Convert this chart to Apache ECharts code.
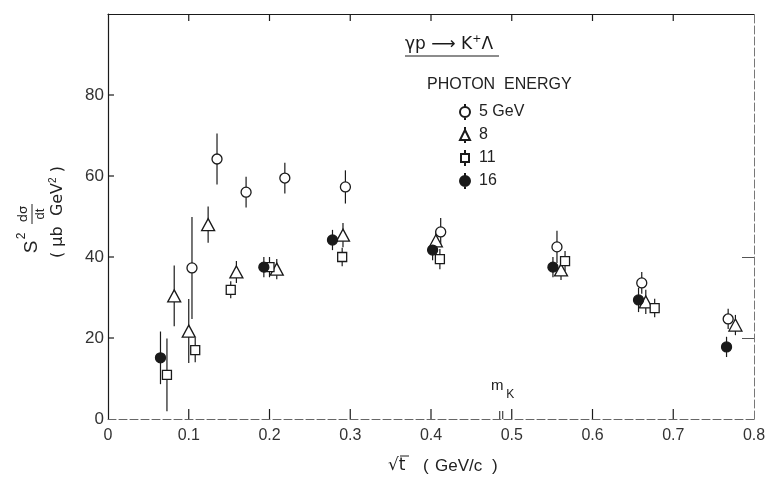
<!DOCTYPE html>
<html><head><meta charset="utf-8">
<script src="https://cdn.jsdelivr.net/npm/echarts@6/dist/echarts.min.js"></script>
<style>html,body{margin:0;padding:0;background:#fff}#c{width:776px;height:488px}</style>
</head><body><div id="c"></div>
<script>
// ---- data ----
const seriesNames = ['5 GeV', '8', '11', '16'];
const xTicks = [0, 0.1, 0.2, 0.3, 0.4, 0.5, 0.6, 0.7, 0.8];
const yTicks = [0, 20, 40, 60, 80];

const x5  = [0.104, 0.135, 0.171, 0.219, 0.294, 0.412, 0.556, 0.661, 0.768];
const y5  = [37.3, 64.2, 56.0, 59.5, 57.3, 46.2, 42.5, 33.6, 24.7];
const e5  = [12.6, 6.3, 3.8, 3.8, 4.1, 3.4, 4.0, 2.7, 2.5];

const x8  = [0.082, 0.100, 0.124, 0.159, 0.209, 0.291, 0.406, 0.561, 0.666, 0.777];
const y8  = [30.4, 21.7, 48.0, 36.3, 37.0, 45.4, 44.0, 36.8, 28.9, 23.2];
const e8  = [7.5, 7.9, 4.5, 2.7, 2.5, 3.0, 2.5, 2.5, 3.0, 2.5];

const x11 = [0.073, 0.108, 0.152, 0.200, 0.290, 0.411, 0.566, 0.677];
const y11 = [10.9, 17.0, 31.9, 37.5, 40.0, 39.5, 39.0, 27.4];
const e11 = [9.0, 3.0, 2.1, 2.5, 2.3, 2.5, 2.5, 2.3];

const x16 = [0.065, 0.193, 0.278, 0.402, 0.551, 0.657, 0.766];
const y16 = [15.1, 37.5, 44.2, 41.7, 37.5, 29.4, 17.8];
const e16 = [6.5, 2.5, 2.5, 2.5, 2.5, 3.0, 2.5];

const MK_POS = 0.487; // m_K marker on the sqrt(t) axis

// ---- chart ----
const FONT = 'Liberation Sans';
const INK = '#1a1a1a';
const X_MAX = 0.8, Y_MAX = 100;
const sets = [
  {name: seriesNames[0], x: x5,  y: y5,  e: e5,  symbol: 'circle',   size: 10, fill: '#fff',
   icon: 'path://M5,0L5,3M5,13L5,16M5,3A5,5,0,1,1,5,13A5,5,0,1,1,5,3Z'},
  {name: seriesNames[1], x: x8,  y: y8,  e: e8,  symbol: 'triangle', size: [13, 12], fill: '#fff',
   icon: 'path://M5,0L5,3M5,13L5,16M5,3L10,13L0,13Z'},
  {name: seriesNames[2], x: x11, y: y11, e: e11, symbol: 'rect',     size: [9, 9], fill: '#fff',
   icon: 'path://M5,0L5,4M5,12L5,16M1,4L9,4L9,12L1,12ZM0,8L0,8M10,8L10,8'},
  {name: seriesNames[3], x: x16, y: y16, e: e16, symbol: 'circle',   size: 10, fill: INK,
   icon: 'path://M5,0L5,3M5,13L5,16M5,3A5,5,0,1,1,5,13A5,5,0,1,1,5,3Z'}
];

function errItem(params, api) {
  const p1 = api.coord([api.value(0), api.value(1)]);
  const p2 = api.coord([api.value(0), api.value(2)]);
  return {type: 'line', shape: {x1: p1[0], y1: p1[1], x2: p2[0], y2: p2[1]},
          style: {stroke: INK, lineWidth: 1.2}};
}

const series = [];
sets.forEach(s => {
  series.push({
    name: s.name + ' err', type: 'custom', renderItem: errItem, z: 2,
    encode: {x: 0, y: [1, 2]},
    data: s.x.map((xv, i) => [xv, s.y[i] - s.e[i], s.y[i] + s.e[i]]),
    silent: true
  });
});
sets.forEach(s => {
  series.push({
    name: s.name, type: 'scatter', z: 3, symbol: s.symbol, symbolSize: s.size,
    itemStyle: {color: s.fill, borderColor: INK, borderWidth: 1.3, opacity: 1},
    data: s.x.map((xv, i) => [xv, s.y[i]])
  });
});
// inward frame ticks drawn as thin rectangular scatter symbols anchored on the axes
function tickScatter(name, data, size, offset) {
  return {
    name: name, type: 'scatter', z: 6, silent: true, clip: false,
    symbol: 'rect', symbolSize: size, symbolOffset: offset,
    itemStyle: {color: INK, borderWidth: 0, opacity: 1},
    emphasis: {disabled: true},
    data: data
  };
}
series.push(tickScatter('tick-bottom', xTicks.slice(1, -1).map(v => [v, 0]), [1.2, 10], [0, -5]));
series.push(tickScatter('tick-top', xTicks.slice(1, -1).map(v => [v, Y_MAX]), [1.2, 7], [0, 3.5]));
series.push(tickScatter('tick-left', yTicks.slice(1).map(v => [0, v]), [6, 1.2], [3, 0]));
series.push({
  name: 'mK', type: 'custom', z: 4, silent: true,
  encode: {x: 0},
  data: [[MK_POS]],
  renderItem(params, api) {
    const p = api.coord([api.value(0), 0]);
    return {type: 'group', children: [
      {type: 'line', shape: {x1: p[0] - 1.5, y1: p[1], x2: p[0] - 1.5, y2: p[1] - 8}, style: {stroke: INK, lineWidth: 1}},
      {type: 'line', shape: {x1: p[0] + 1.5, y1: p[1], x2: p[0] + 1.5, y2: p[1] - 8}, style: {stroke: INK, lineWidth: 1}},
      {type: 'text', x: p[0] - 4, y: p[1] - 33, style: {text: 'm', fontSize: 15, fontFamily: FONT, fill: INK, align: 'center', verticalAlign: 'middle'}},
      {type: 'text', x: p[0] + 9, y: p[1] - 24, style: {text: 'K', fontSize: 12, fontFamily: FONT, fill: INK, align: 'center', verticalAlign: 'middle'}}
    ]};
  }
});

const chart = echarts.init(document.getElementById('c'), null, {renderer: 'canvas'});
chart.setOption({
  animation: false,
  backgroundColor: '#fff',
  grid: {left: 108, right: 22, top: 14, bottom: 69, containLabel: false},
  xAxis: [
    {type: 'value', min: 0, max: X_MAX, interval: 0.1, position: 'bottom',
     axisLine: {onZero: false, lineStyle: {color: '#666', width: 1, type: [8, 3]}},
     axisTick: {show: false},
     splitLine: {show: false},
     axisLabel: {margin: 9, fontSize: 16, fontFamily: FONT, color: '#333',
       formatter: v => (xTicks.some(t => Math.abs(t - v) < 1e-9) ? (v === 0 ? '0' : v.toFixed(1)) : '')}},
    {type: 'value', min: 0, max: X_MAX, interval: 0.1, position: 'top',
     axisLine: {onZero: false, lineStyle: {color: INK, width: 1.2}},
     axisTick: {show: false},
     splitLine: {show: false}, axisLabel: {show: false}}
  ],
  yAxis: [
    {type: 'value', min: 0, max: Y_MAX, interval: 20, position: 'left',
     axisLine: {show: true, onZero: false, lineStyle: {color: INK, width: 1.2}},
     axisTick: {show: false},
     splitLine: {show: false},
     axisLabel: {margin: 4, fontSize: 17, fontFamily: FONT, color: '#333',
       formatter: v => (yTicks.indexOf(v) >= 0 ? String(v) : '')}},
    {type: 'value', min: 0, max: Y_MAX, interval: 20, position: 'right',
     axisLine: {show: true, onZero: false, lineStyle: {color: '#777', width: 1, type: [8, 3]}},
     axisTick: {show: true, inside: true, length: 12, customValues: [20, 40], lineStyle: {color: '#555'}},
     splitLine: {show: false}, axisLabel: {show: false}}
  ],
  legend: {
    data: sets.map(s => ({name: s.name, icon: s.icon})),
    orient: 'vertical', left: 454, top: 98,
    itemWidth: 10, itemHeight: 16, itemGap: 5,
    textStyle: {fontSize: 16, fontFamily: FONT, color: '#222', padding: [0, 0, 0, 4]},
    selectedMode: false
  },
  graphic: [
    // reaction label
    {type: 'text', left: 405, top: 34, style: {
      rich: {n: {fontSize: 17, fontFamily: 'DejaVu Sans', fill: INK},
             s: {fontSize: 11, fontFamily: 'DejaVu Sans', fill: INK, verticalAlign: 'top', padding: [0, 0, 10, 0]}},
      text: '{n|γp ⟶ K}{s|+}{n|Λ}'}},
    {type: 'line', shape: {x1: 405, y1: 56, x2: 499, y2: 56}, style: {stroke: INK, lineWidth: 1.2}},
    {type: 'text', left: 427, top: 77, style: {text: 'PHOTON  ENERGY', fontSize: 16, fontFamily: FONT, fill: '#222'}},
    // x axis title
    {type: 'group', x: 388, y: 466, children: [
      {type: 'text', x: 0, y: 0, style: {text: '√t', fontSize: 17, fontFamily: 'DejaVu Sans', fill: INK, verticalAlign: 'middle'}},
      {type: 'line', shape: {x1: 12, y1: -10, x2: 21, y2: -10}, style: {stroke: INK, lineWidth: 1}},
      {type: 'text', x: 35, y: 0, style: {text: '(', fontSize: 17, fontFamily: FONT, fill: '#222', verticalAlign: 'middle'}},
      {type: 'text', x: 47, y: 0, style: {text: 'GeV/c', fontSize: 17, fontFamily: FONT, fill: '#222', verticalAlign: 'middle'}},
      {type: 'text', x: 104, y: 0, style: {text: ')', fontSize: 17, fontFamily: FONT, fill: '#222', verticalAlign: 'middle'}}
    ]},
    // y axis title line 1: S^2 dσ/dt
    {type: 'group', x: 32, y: 228, rotation: Math.PI / 2, children: [
      {type: 'text', x: -19, y: 0, style: {text: 'S', fontSize: 19, fontFamily: FONT, fill: '#222', align: 'center', verticalAlign: 'middle'}},
      {type: 'text', x: -8, y: -10, style: {text: '2', fontSize: 12, fontFamily: FONT, fill: '#222', align: 'center', verticalAlign: 'middle'}},
      {type: 'text', x: 14, y: -8, style: {text: 'dσ', fontSize: 13, fontFamily: 'DejaVu Sans', fill: '#222', align: 'center', verticalAlign: 'middle'}},
      {type: 'line', shape: {x1: 4, y1: 0, x2: 24, y2: 0}, style: {stroke: '#222', lineWidth: 1}},
      {type: 'text', x: 14, y: 8, style: {text: 'dt', fontSize: 13, fontFamily: FONT, fill: '#222', align: 'center', verticalAlign: 'middle'}}
    ]},
    // y axis title line 2: (μb GeV^2)
    {type: 'group', x: 58, y: 212, rotation: Math.PI / 2, children: [
      {type: 'text', x: 0, y: 0, style: {
        rich: {n: {fontSize: 16, fontFamily: 'DejaVu Sans', fill: '#222'},
               s: {fontSize: 10, fontFamily: FONT, fill: '#222', verticalAlign: 'top', padding: [0, 0, 9, 0]}},
        text: '{n|( μb  GeV}{s|2}{n| )}', align: 'center', verticalAlign: 'middle'}}
    ]}
  ],
  series: series
});
</script>
</body></html>
